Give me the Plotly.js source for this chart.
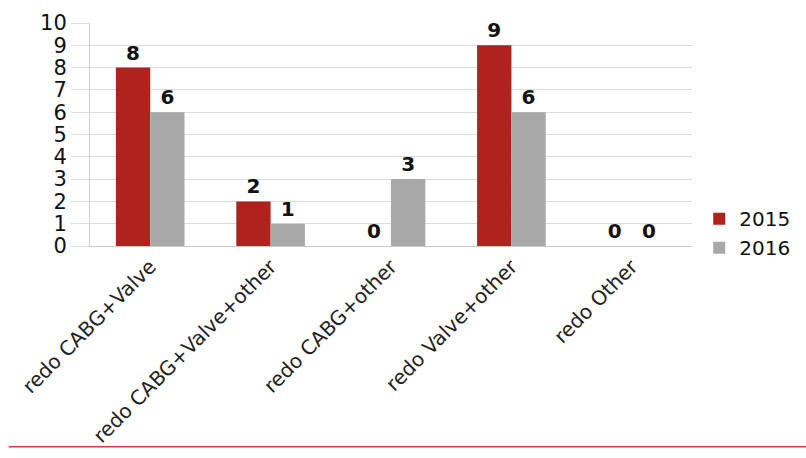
<!DOCTYPE html>
<html><head><meta charset="utf-8">
<script src="https://cdn.plot.ly/plotly-3.0.1.min.js"></script>
<style>html,body{margin:0;padding:0;background:#fff;}</style>
</head><body>
<div id="chart" style="width:806px;height:458px;"></div>
<script>
const categories = ["redo CABG+Valve", "redo CABG+Valve+other", "redo CABG+other", "redo Valve+other", "redo Other"];
const values2015 = [8, 2, 0, 9, 0];
const values2016 = [6, 1, 3, 6, 0];
const yTicks = [0,1,2,3,4,5,6,7,8,9,10];

const font = "DejaVu Sans, Verdana, sans-serif";
const labelFont = {family: font, size: 20, color: "#111", weight: "bold"};

const traces = [
  {type: "bar", name: "2015", x: categories, y: values2015, marker: {color: "#b0221e"},
   text: values2015.map(String), textposition: "outside", textfont: labelFont, cliponaxis: false},
  {type: "bar", name: "2016", x: categories, y: values2016, marker: {color: "#a8a8a8"},
   text: values2016.map(String), textposition: "outside", textfont: labelFont, cliponaxis: false}
];

const layout = {
  width: 806, height: 458,
  margin: {l: 90, r: 114, t: 23, b: 212, autoexpand: false},
  paper_bgcolor: "#fff", plot_bgcolor: "#fff",
  barmode: "group", bargap: 0.43, bargroupgap: 0,
  font: {family: font, color: "#111"},
  showlegend: true,
  legend: {x: 1.012, y: 0.21, xanchor: "left", yanchor: "top", font: {family: font, size: 20, color: "#111"},
           itemwidth: 30, tracegroupgap: 8},
  xaxis: {type: "category", tickangle: -45, tickfont: {family: font, size: 20, color: "#222"},
          showline: true, linecolor: "#c8c8c8", linewidth: 1, ticks: "", showgrid: false},
  yaxis: {range: [0, 10], tickvals: yTicks, ticktext: yTicks.map(String),
          tickfont: {family: font, size: 21, color: "#111"},
          showgrid: true, gridcolor: "#dcdcdc", gridwidth: 1,
          showline: true, linecolor: "#d0d0d0", ticks: "outside", ticklen: 18, tickcolor: "#e0e0e0",
          zeroline: false, fixedrange: true},
  shapes: [{type: "line", xref: "paper", yref: "paper", x0: -0.135, x1: 1.2, y0: -0.9, y1: -0.9,
            line: {color: "#c8413a", width: 1.5}}]
};

Plotly.newPlot("chart", traces, layout, {displayModeBar: false, staticPlot: true});
</script>
</body></html>
